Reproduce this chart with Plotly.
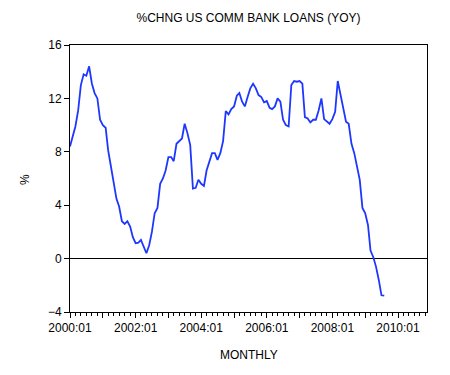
import plotly.graph_objects as go
import pandas as pd

values = [
    8.4, 9.3, 9.9, 11.1, 13.0, 13.8, 13.7, 14.4, 13.1, 12.4, 12.0, 10.4,
    10.0, 9.8, 8.1, 6.9, 5.6, 4.5, 3.9, 2.8, 2.6, 2.8, 2.4, 1.6,
    1.15, 1.2, 1.4, 0.9, 0.4, 1.0, 2.0, 3.4, 3.8, 5.6, 6.0, 6.6,
    7.6, 7.6, 7.3, 8.6, 8.8, 9.0, 10.1, 9.4, 8.5, 5.25, 5.3, 5.9,
    5.6, 5.45, 6.6, 7.2, 7.9, 7.9, 7.4, 7.9, 8.8, 11.05, 10.8, 11.2,
    11.4, 12.2, 12.4, 11.75, 11.4, 12.1, 12.75, 13.1, 12.75, 12.25, 12.1, 11.7,
    11.8, 11.3, 11.2, 11.4, 12.0, 11.75, 10.4, 10.0, 9.9, 13.0, 13.3, 13.25,
    13.3, 13.1, 10.6, 10.5, 10.2, 10.4, 10.4, 11.1, 12.0, 10.45, 10.3, 10.1,
    10.45, 11.0, 13.3, 12.25, 11.25, 10.25, 10.1, 8.6, 7.9, 6.8, 5.9, 3.8,
    3.4, 2.5, 0.6, 0.1, -0.6, -1.6, -2.75, -2.78,
]
months = pd.date_range("2000-01-01", periods=len(values), freq="MS")

tick_years = list(range(2000, 2011))
tick_vals = [f"{y}-01-01" for y in tick_years]
tick_text = [f"{y}:01" if y % 2 == 0 else "" for y in tick_years]
y_ticks = [-4, 0, 4, 8, 12, 16]

FONT = "Liberation Sans, Arial, sans-serif"

fig = go.Figure()
fig.add_trace(go.Scatter(
    x=months, y=values, mode="lines",
    line=dict(color="rgb(30,55,255)", width=1.8),
    showlegend=False,
))

fig.update_layout(
    width=450, height=375,
    margin=dict(l=70, r=23, t=45, b=63),
    paper_bgcolor="white", plot_bgcolor="white",
    font=dict(family=FONT, size=12, color="black"),
    title=dict(text="%CHNG US COMM BANK LOANS (YOY)", x=0.5, xref="paper",
               y=1 - 18 / 375, yref="container", yanchor="middle",
               font=dict(family=FONT, size=12, color="black")),
    xaxis=dict(
        type="date", range=["2000-01-01", "2010-11-20"],
        tickmode="array", tickvals=tick_vals, ticktext=tick_text,
        ticks="outside", ticklen=5, tickwidth=1, tickcolor="black",
        showline=True, linecolor="black", linewidth=1, mirror=True,
        showgrid=False, zeroline=False,
        minor=dict(tickmode="linear", tick0="2000-01-01", dtick="M2",
                   ticks="outside", ticklen=3, tickwidth=1, tickcolor="black",
                   showgrid=False),
        tickfont=dict(family=FONT, size=12, color="black"),
    ),
    yaxis=dict(
        range=[-4, 16], tickmode="array", tickvals=y_ticks,
        ticks="outside", ticklen=5, tickwidth=1, tickcolor="black",
        showline=True, linecolor="black", linewidth=1, mirror=True,
        showgrid=False, zeroline=True, zerolinecolor="black", zerolinewidth=1,
        tickfont=dict(family=FONT, size=12, color="black"),
    ),
    annotations=[
        dict(text="MONTHLY", x=0.5, y=-0.161, xref="paper", yref="paper",
             xanchor="center", yanchor="middle", showarrow=False,
             font=dict(family=FONT, size=12, color="black")),
        dict(text="%", x=-0.126, y=0.494, xref="paper", yref="paper",
             xanchor="center", yanchor="middle", showarrow=False, textangle=-90,
             font=dict(family=FONT, size=12, color="black")),
    ],
)

fig.write_html("out.html")
